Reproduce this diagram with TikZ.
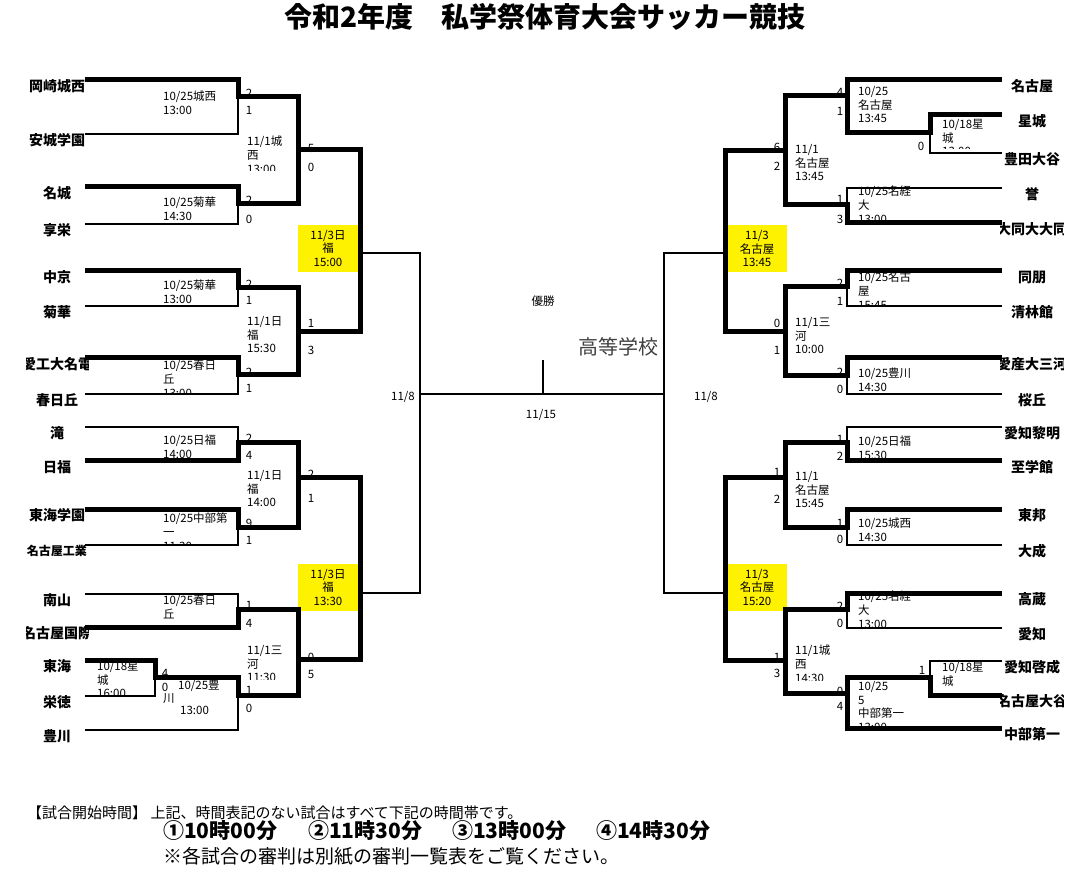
\documentclass[tikz,border=0pt]{standalone}
\usepackage{fontspec}
\setmainfont{Noto Sans CJK JP}
% a node that is cut off by a clip box
\newcommand{\cutnode}[4]{\begin{scope}\clip #1;\node[#2] at #3 {#4};\end{scope}}

\begin{document}
\begin{tikzpicture}[x=1pt,y=-1pt]
  \tikzset{
    win/.style={line width=5pt},
    lose/.style={line width=2.2pt},
    team/.style={inner sep=0pt, font=\bfseries\fontsize{14}{14}\selectfont},
    info/.style={align=left, anchor=north west, inner sep=0pt, font=\fontsize{11.5}{13.7}\selectfont},
    score/.style={inner sep=0pt, font=\fontsize{11.5}{12}\selectfont},
    day/.style={fill=yellow, minimum width=60pt, minimum height=47pt, align=center, inner sep=0pt, font=\fontsize{11.5}{13.5}\selectfont},
  }
  \fill[white] (0,0) rectangle (1082,874);
  \useasboundingbox (0,0) rectangle (1082,874);

  \node[font=\bfseries\fontsize{28}{28}\selectfont] (title) at (545,17) {令和2年度　私学祭体育大会サッカー競技};

  % semifinal days
  \node[day] (dayL1) at (328,248.5) {11/3日\\福\\15:00};
  \node[day] (dayL2) at (328,587.5) {11/3日\\福\\13:30};
  \node[day] (dayR1) at (757,249) {11/3\\名古屋\\13:45};
  \node[day] (dayR2) at (757,587.5) {11/3\\名古屋\\15:20};

  % left schedule
  \node[info] (iL1) at (163,91) {10/25城西\\13:00};
  \node[info] (iL2) at (163,197) {10/25菊華\\14:30};
  \cutnode{(244,133) rectangle (300,171)}{info, name=iL3}{(247,136)}{11/1城\\西\\13:00}
  \node[info] (iL4) at (163,280) {10/25菊華\\13:00};
  \cutnode{(160,357) rectangle (236,393)}{info, name=iL5}{(163,360)}{10/25春日\\丘\\13:00}
  \node[info] (iL6) at (247,316) {11/1日\\福\\15:30};
  \node[info] (iL7) at (163,435) {10/25日福\\14:00};
  \node[info] (iL8) at (247,470) {11/1日\\福\\14:00};
  \cutnode{(160,510) rectangle (236,543)}{info, name=iL9}{(163,513)}{10/25中部第\\一\\11:30};
  \node[info] (iL10) at (163,595) {10/25春日\\丘};
  \cutnode{(94,658) rectangle (153,694)}{info, name=iL11}{(97,661)}{10/18星\\城\\16:00}
  \node[info] (iL12) at (178,680) {10/25豊};
  \node[info] (iL13) at (163,693) {川};
  \cutnode{(176,703) rectangle (236,716)}{info, name=iL14}{(180,706)}{13:00}
  \cutnode{(244,642) rectangle (296,679)}{info, name=iL15}{(247,645)}{11/1三\\河\\11:30}

  % right schedule
  \node[info] (iR1) at (858,86) {10/25\\名古屋\\13:45};
  \cutnode{(939,116) rectangle (1000,149)}{info, name=iR2}{(942,119)}{10/18星\\城\\13:00}
  \node[info] (iR3) at (858,186) {10/25名経\\大\\13:00};
  \node[info] (iR4) at (795,144) {11/1\\名古屋\\13:45};
  \cutnode{(855,269) rectangle (1000,305)}{info, name=iR5}{(858,272)}{10/25名古\\屋\\15:45}
  \node[info] (iR6) at (795,317) {11/1三\\河\\10:00};
  \node[info] (iR7) at (858,368) {10/25豊川\\14:30};
  \node[info] (iR8) at (858,436) {10/25日福\\15:30};
  \node[info] (iR9) at (795,471) {11/1\\名古屋\\15:45};
  \node[info] (iR10) at (858,518) {10/25城西\\14:30};
  \cutnode{(855,588) rectangle (1000,626)}{info, name=iR11}{(858,591)}{10/25名経\\大\\13:00}
  \cutnode{(792,642) rectangle (845,680)}{info, name=iR12}{(795,645)}{11/1城\\西\\14:30}
  \node[info] (iR13) at (942,662) {10/18星\\城};
  \cutnode{(855,678) rectangle (1000,726)}{info, name=iR14}{(858,681)}{10/25\\5\\中部第一\\13:00}

  % scores
  \foreach \x/\y/\s [count=\i] in {249/93/2, 249/110/1, 249/200/2, 249/219/0, 311/148/5, 311/167/0,
      249/284/2, 249/300/1, 249/372/2, 249/388/1, 311/323/1, 311/350/3, 249/438/2, 249/455/4,
      249/523/9, 249/540/1, 311/474/2, 311/498/1, 249/605/1, 249/623/4, 165/673/4, 165/687/0,
      249/690/1, 249/708/0, 311/657/0, 311/674/5}
    \node[score] (sL\i) at (\x,\y) {\s};
  \foreach \x/\y/\s [count=\i] in {840/92/4, 840/111/1, 921/146/0, 840/199/1, 840/219/3, 777/147/6,
      777/166/2, 840/283/2, 840/301/1, 840/372/2, 840/389/0, 777/323/0, 777/350/1, 840/439/1,
      840/456/2, 840/523/1, 840/539/0, 777/472/1, 777/499/2, 840/606/2, 840/623/0, 777/657/1,
      777/673/3, 922/670/1, 840/691/0, 840/706/4}
    \node[score] (sR\i) at (\x,\y) {\s};

  % team names
  \foreach \nm/\y [count=\i] in {岡崎城西/80, 安城学園/134, 名城/187, 享栄/224, 中京/271, 菊華/306,
      春日丘/394, 滝/427, 日福/461, 東海学園/509, 南山/594, 東海/660, 栄徳/696, 豊川/730}
    \node[team] (tL\i) at (57,\y+6) {\nm};
  \node[team, font=\bfseries\fontsize{12}{12}\selectfont] (tL15) at (57,551) {名古屋工業};
  \cutnode{(26,350) rectangle (88,378)}{team, name=tL16}{(57,364)}{愛工大名電}
  \cutnode{(26,619) rectangle (88,647)}{team, name=tL17}{(57,633)}{名古屋国際}
  \foreach \nm/\y [count=\i] in {名古屋/80, 星城/115, 豊田大谷/153, 誉/188, 同朋/271, 清林館/306,
      桜丘/394, 愛知黎明/427, 至学館/461, 東邦/509, 大成/545, 高蔵/593, 愛知/628, 愛知啓成/661, 中部第一/728}
    \node[team] (tR\i) at (1032,\y+6) {\nm};
  \cutnode{(1000,215) rectangle (1063,243)}{team, name=tR16}{(1032,229)}{大同大大同}
  \cutnode{(1000,350) rectangle (1063,378)}{team, name=tR17}{(1032,364)}{愛産大三河}
  \cutnode{(1000,687) rectangle (1063,715)}{team, name=tR18}{(1032,701)}{名古屋大谷}

  % losers
  \draw[lose] (85,134) -| (238,97);
  \draw[lose] (85,224) -| (238,204);
  \draw[lose] (85,306) -| (238,288);
  \draw[lose] (85,394) -| (238,375);
  \draw[lose] (85,427) -| (238,443);
  \draw[lose] (85,545) -| (238,527);
  \draw[lose] (85,594) -| (238,609);
  \draw[lose] (85,696) -| (155,677);
  \draw[lose] (85,730) -| (238,695);
  \draw[lose] (1002,153) -| (930,133);
  \draw[lose] (1002,188) -| (847,205);
  \draw[lose] (1002,306) -| (847,287);
  \draw[lose] (1002,394) -| (847,376);
  \draw[lose] (1002,427) -| (847,443);
  \draw[lose] (1002,545) -| (847,527);
  \draw[lose] (1002,628) -| (847,609);
  \draw[lose] (1002,661) -| (930,677);
  % final rounds
  \draw[lose] (360,253) -- (420,253) -- (420,593) -- (360,593);
  \draw[lose] (725,253) -- (664,253) -- (664,593) -- (725,593);
  \draw[lose] (420,394) -- (664,394);
  \draw[lose] (543,360) -- (543,394);

  % winners
  \draw[win] (85,80) -| (238,97) -- (298,97) -- (298,204) -- (238,204) |- (85,187);
  \draw[win] (85,271) -| (238,288) -- (298,288) -- (298,375) -- (238,375) |- (85,358);
  \draw[win] (298,150) -- (360,150) -- (360,332) -- (298,332);
  \draw[win] (85,461) -| (238,443) -- (298,443) -- (298,527) -- (238,527) |- (85,509);
  \draw[win] (85,627) -| (238,609) -- (298,609) -- (298,695) -- (238,695) -- (238,677) -- (155,677) |- (85,660);
  \draw[win] (298,477) -- (360,477) -- (360,659) -- (298,659);
  \draw[win] (1002,80) -| (847,133) -- (930,133) |- (1002,115);
  \draw[win] (847,96) -- (785,96) -- (785,205) -- (847,205) |- (1002,223);
  \draw[win] (1002,271) -| (847,287) -- (785,287) -- (785,376) -- (847,376) |- (1002,358);
  \draw[win] (785,151) -- (725,151) -- (725,332) -- (785,332);
  \draw[win] (1002,461) -| (847,443) -- (785,443) -- (785,527) -- (847,527) |- (1002,509);
  \draw[win] (1002,593) -| (847,609) -- (785,609) -- (785,693) -- (847,693);
  \draw[win] (1002,728) -| (847,677) -- (930,677) |- (1002,695);
  \draw[win] (785,477) -- (725,477) -- (725,660) -- (785,660);

  % centre
  \node[score] (champ) at (543,301) {優勝};
  \node[font=\fontsize{20}{20}\selectfont, text=black!75, inner sep=0pt] (school) at (618,347) {高等学校};
  \node[score] (fL) at (403,397) {11/8};
  \node[score] (fR) at (706,397) {11/8};
  \node[score] (fin) at (541,415) {11/15};

  % notes
  \node[anchor=west, inner sep=0pt, font=\fontsize{15}{15}\selectfont] (note) at (27,813)
    {【試合開始時間】 上記、時間表記のない試合はすべて下記の時間帯です。};
  \foreach \t/\x [count=\i] in {①10時00分/163, ②11時30分/308, ③13時00分/452, ④14時30分/596}
    \node[anchor=west, inner sep=0pt, font=\bfseries\fontsize{21}{21}\selectfont] (time\i) at (\x,831) {\t};
  \node[anchor=west, inner sep=0pt, font=\fontsize{19}{19}\selectfont] (ref) at (163,856)
    {※各試合の審判は別紙の審判一覧表をご覧ください。};
\end{tikzpicture}
\end{document}
